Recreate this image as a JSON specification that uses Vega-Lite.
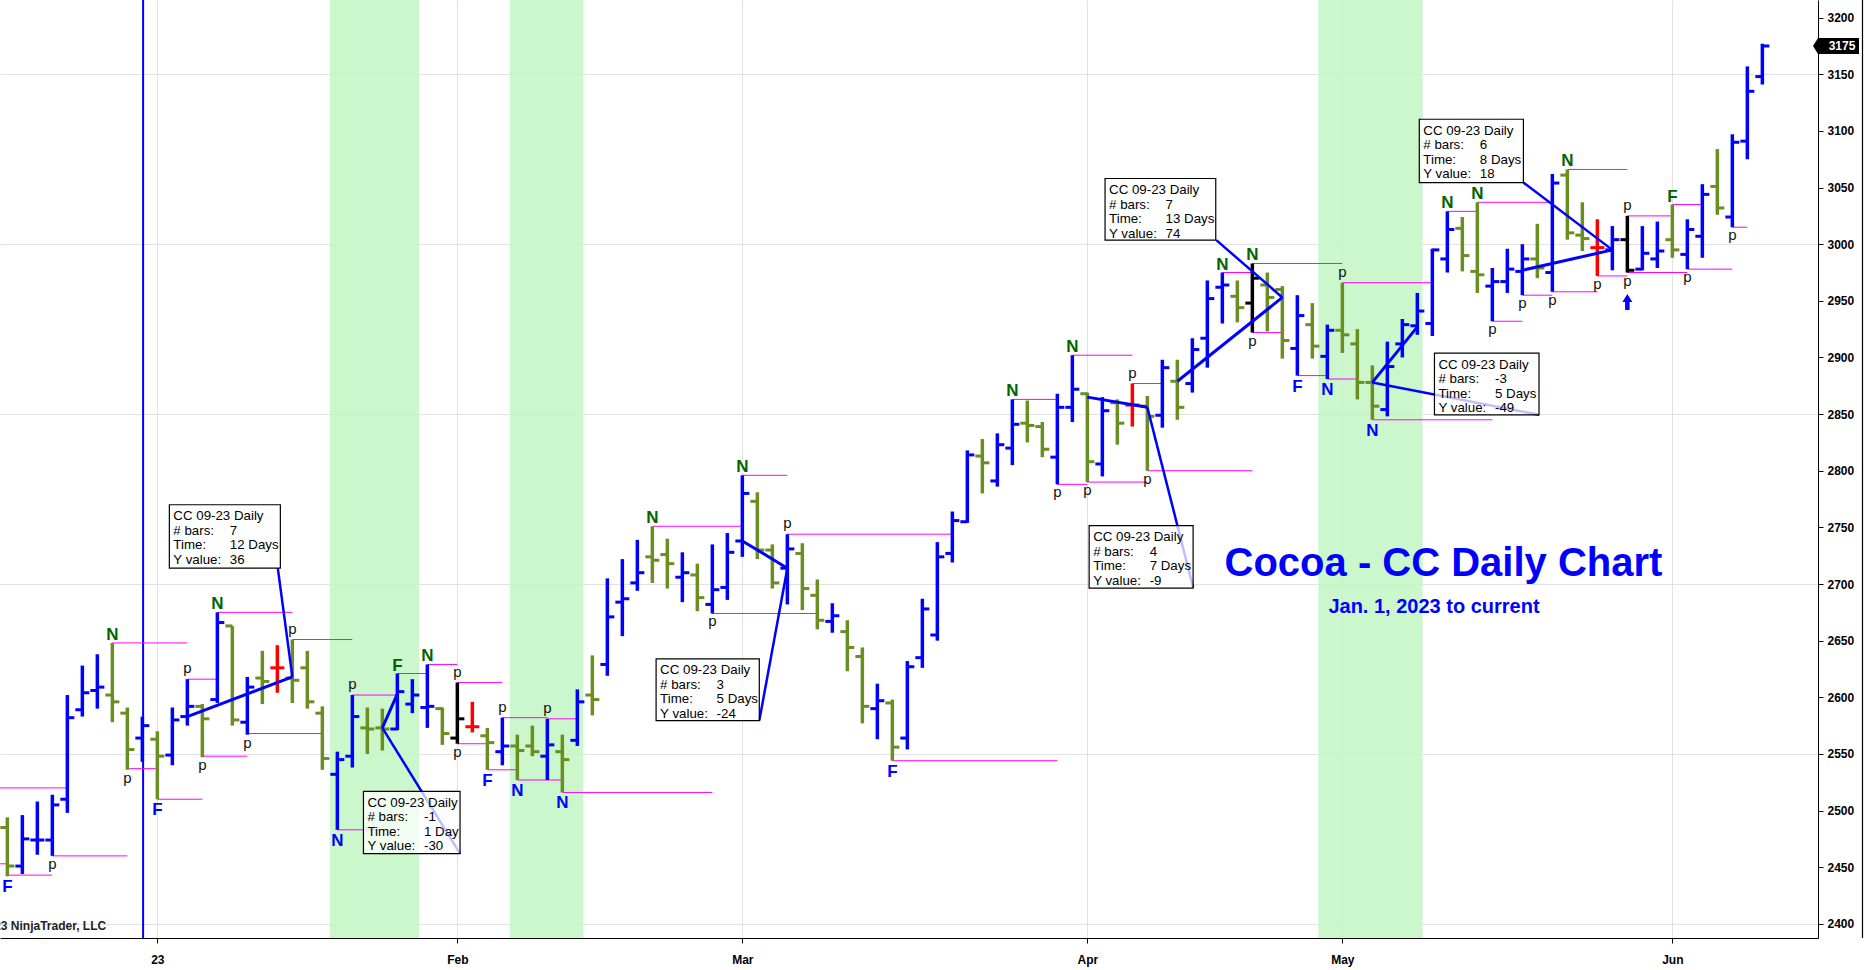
{
  "$schema": "https://vega.github.io/schema/vega-lite/v6.json",
  "width": 1818,
  "height": 938,
  "autosize": {"type": "none"},
  "padding": {"left": 0, "top": 0, "right": 47, "bottom": 32},
  "background": "#ffffff",
  "config": {
    "view": {"stroke": null},
    "axis": {
      "labelFont": "Liberation Sans",
      "labelFontWeight": "bold",
      "labelColor": "#000000",
      "labelFontSize": 12,
      "domainColor": "#000000",
      "tickColor": "#000000",
      "gridColor": "#E2E2E2",
      "tickSize": 5,
      "title": null
    },
    "text": {"font": "Liberation Sans"}
  },
  "datasets": {
    "bars": [
      {"n":1,"date":"2022-12-16","o":2485,"h":2494,"l":2442,"c":2451,"k":"down"},
      {"n":2,"date":"2022-12-19","o":2451,"h":2496,"l":2444,"c":2475,"k":"up"},
      {"n":3,"date":"2022-12-20","o":2474,"h":2508,"l":2461,"c":2474,"k":"up"},
      {"n":4,"date":"2022-12-21","o":2474,"h":2514,"l":2460,"c":2505,"k":"up"},
      {"n":5,"date":"2022-12-22","o":2510,"h":2602,"l":2498,"c":2582,"k":"up"},
      {"n":6,"date":"2022-12-23","o":2589,"h":2628,"l":2583,"c":2604,"k":"up"},
      {"n":7,"date":"2022-12-27","o":2606,"h":2638,"l":2590,"c":2609,"k":"up"},
      {"n":8,"date":"2022-12-28","o":2602,"h":2648,"l":2578,"c":2596,"k":"down"},
      {"n":9,"date":"2022-12-29","o":2586,"h":2591,"l":2536,"c":2554,"k":"down"},
      {"n":10,"date":"2022-12-30","o":2564,"h":2583,"l":2543,"c":2575,"k":"up"},
      {"n":11,"date":"2023-01-03","o":2563,"h":2570,"l":2510,"c":2548,"k":"down"},
      {"n":12,"date":"2023-01-04","o":2549,"h":2591,"l":2540,"c":2580,"k":"up"},
      {"n":13,"date":"2023-01-05","o":2583,"h":2616,"l":2575,"c":2592,"k":"up"},
      {"n":14,"date":"2023-01-06","o":2592,"h":2594,"l":2547,"c":2581,"k":"down"},
      {"n":15,"date":"2023-01-09","o":2598,"h":2675,"l":2595,"c":2666,"k":"up"},
      {"n":16,"date":"2023-01-10","o":2663,"h":2663,"l":2575,"c":2580,"k":"down"},
      {"n":17,"date":"2023-01-11","o":2578,"h":2618,"l":2567,"c":2609,"k":"up"},
      {"n":18,"date":"2023-01-12","o":2617,"h":2641,"l":2594,"c":2614,"k":"down"},
      {"n":19,"date":"2023-01-13","o":2626,"h":2646,"l":2604,"c":2626,"k":"red"},
      {"n":20,"date":"2023-01-17","o":2617,"h":2651,"l":2595,"c":2615,"k":"down"},
      {"n":21,"date":"2023-01-18","o":2626,"h":2641,"l":2590,"c":2596,"k":"down"},
      {"n":22,"date":"2023-01-19","o":2586,"h":2592,"l":2536,"c":2546,"k":"down"},
      {"n":23,"date":"2023-01-20","o":2532,"h":2552,"l":2483,"c":2545,"k":"up"},
      {"n":24,"date":"2023-01-23","o":2548,"h":2602,"l":2538,"c":2583,"k":"up"},
      {"n":25,"date":"2023-01-24","o":2573,"h":2591,"l":2550,"c":2572,"k":"down"},
      {"n":26,"date":"2023-01-25","o":2573,"h":2590,"l":2553,"c":2572,"k":"down"},
      {"n":27,"date":"2023-01-26","o":2572,"h":2621,"l":2571,"c":2605,"k":"up"},
      {"n":28,"date":"2023-01-27","o":2594,"h":2616,"l":2586,"c":2602,"k":"up"},
      {"n":29,"date":"2023-01-30","o":2591,"h":2629,"l":2573,"c":2592,"k":"up"},
      {"n":30,"date":"2023-01-31","o":2590,"h":2591,"l":2558,"c":2568,"k":"down"},
      {"n":31,"date":"2023-02-01","o":2564,"h":2613,"l":2559,"c":2581,"k":"black"},
      {"n":32,"date":"2023-02-02","o":2574,"h":2596,"l":2569,"c":2574,"k":"red"},
      {"n":33,"date":"2023-02-03","o":2566,"h":2573,"l":2536,"c":2560,"k":"down"},
      {"n":34,"date":"2023-02-06","o":2552,"h":2582,"l":2540,"c":2557,"k":"up"},
      {"n":35,"date":"2023-02-07","o":2557,"h":2567,"l":2527,"c":2553,"k":"down"},
      {"n":36,"date":"2023-02-08","o":2557,"h":2575,"l":2548,"c":2552,"k":"down"},
      {"n":37,"date":"2023-02-09","o":2548,"h":2581,"l":2527,"c":2558,"k":"up"},
      {"n":38,"date":"2023-02-10","o":2552,"h":2567,"l":2516,"c":2545,"k":"down"},
      {"n":39,"date":"2023-02-13","o":2562,"h":2607,"l":2557,"c":2596,"k":"up"},
      {"n":40,"date":"2023-02-14","o":2602,"h":2637,"l":2584,"c":2598,"k":"down"},
      {"n":41,"date":"2023-02-15","o":2629,"h":2705,"l":2619,"c":2671,"k":"up"},
      {"n":42,"date":"2023-02-16","o":2684,"h":2722,"l":2654,"c":2687,"k":"up"},
      {"n":43,"date":"2023-02-17","o":2701,"h":2739,"l":2694,"c":2710,"k":"up"},
      {"n":44,"date":"2023-02-21","o":2724,"h":2751,"l":2701,"c":2721,"k":"down"},
      {"n":45,"date":"2023-02-22","o":2726,"h":2740,"l":2696,"c":2718,"k":"down"},
      {"n":46,"date":"2023-02-23","o":2706,"h":2728,"l":2684,"c":2710,"k":"up"},
      {"n":47,"date":"2023-02-24","o":2708,"h":2718,"l":2676,"c":2688,"k":"down"},
      {"n":48,"date":"2023-02-27","o":2682,"h":2735,"l":2674,"c":2695,"k":"up"},
      {"n":49,"date":"2023-02-28","o":2697,"h":2745,"l":2686,"c":2728,"k":"up"},
      {"n":50,"date":"2023-03-01","o":2738,"h":2796,"l":2724,"c":2780,"k":"up"},
      {"n":51,"date":"2023-03-02","o":2773,"h":2781,"l":2722,"c":2730,"k":"down"},
      {"n":52,"date":"2023-03-03","o":2730,"h":2735,"l":2696,"c":2701,"k":"down"},
      {"n":53,"date":"2023-03-06","o":2714,"h":2744,"l":2682,"c":2731,"k":"up"},
      {"n":54,"date":"2023-03-07","o":2727,"h":2736,"l":2677,"c":2696,"k":"down"},
      {"n":55,"date":"2023-03-08","o":2690,"h":2704,"l":2660,"c":2668,"k":"down"},
      {"n":56,"date":"2023-03-09","o":2667,"h":2683,"l":2657,"c":2672,"k":"up"},
      {"n":57,"date":"2023-03-10","o":2658,"h":2668,"l":2623,"c":2644,"k":"down"},
      {"n":58,"date":"2023-03-13","o":2636,"h":2644,"l":2577,"c":2592,"k":"down"},
      {"n":59,"date":"2023-03-14","o":2590,"h":2612,"l":2563,"c":2597,"k":"up"},
      {"n":60,"date":"2023-03-15","o":2595,"h":2598,"l":2544,"c":2556,"k":"down"},
      {"n":61,"date":"2023-03-16","o":2564,"h":2632,"l":2554,"c":2627,"k":"up"},
      {"n":62,"date":"2023-03-17","o":2635,"h":2687,"l":2626,"c":2678,"k":"up"},
      {"n":63,"date":"2023-03-20","o":2655,"h":2737,"l":2650,"c":2724,"k":"up"},
      {"n":64,"date":"2023-03-21","o":2727,"h":2764,"l":2719,"c":2756,"k":"up"},
      {"n":65,"date":"2023-03-22","o":2755,"h":2818,"l":2754,"c":2814,"k":"up"},
      {"n":66,"date":"2023-03-23","o":2813,"h":2828,"l":2780,"c":2807,"k":"down"},
      {"n":67,"date":"2023-03-24","o":2791,"h":2833,"l":2786,"c":2823,"k":"up"},
      {"n":68,"date":"2023-03-27","o":2820,"h":2863,"l":2805,"c":2841,"k":"up"},
      {"n":69,"date":"2023-03-28","o":2842,"h":2862,"l":2825,"c":2840,"k":"down"},
      {"n":70,"date":"2023-03-29","o":2839,"h":2843,"l":2812,"c":2819,"k":"down"},
      {"n":71,"date":"2023-03-30","o":2812,"h":2868,"l":2788,"c":2856,"k":"up"},
      {"n":72,"date":"2023-03-31","o":2856,"h":2902,"l":2843,"c":2872,"k":"up"},
      {"n":73,"date":"2023-04-03","o":2868,"h":2869,"l":2790,"c":2808,"k":"down"},
      {"n":74,"date":"2023-04-04","o":2806,"h":2865,"l":2795,"c":2853,"k":"up"},
      {"n":75,"date":"2023-04-05","o":2860,"h":2863,"l":2823,"c":2842,"k":"down"},
      {"n":76,"date":"2023-04-06","o":2858,"h":2877,"l":2839,"c":2858,"k":"red"},
      {"n":77,"date":"2023-04-10","o":2857,"h":2866,"l":2800,"c":2848,"k":"down"},
      {"n":78,"date":"2023-04-11","o":2849,"h":2898,"l":2838,"c":2891,"k":"up"},
      {"n":79,"date":"2023-04-12","o":2879,"h":2898,"l":2845,"c":2856,"k":"down"},
      {"n":80,"date":"2023-04-13","o":2877,"h":2917,"l":2869,"c":2907,"k":"up"},
      {"n":81,"date":"2023-04-14","o":2917,"h":2968,"l":2891,"c":2952,"k":"up"},
      {"n":82,"date":"2023-04-17","o":2962,"h":2975,"l":2930,"c":2964,"k":"up"},
      {"n":83,"date":"2023-04-18","o":2954,"h":2968,"l":2931,"c":2944,"k":"down"},
      {"n":84,"date":"2023-04-19","o":2948,"h":2983,"l":2922,"c":2970,"k":"black"},
      {"n":85,"date":"2023-04-24","o":2964,"h":2975,"l":2923,"c":2953,"k":"down"},
      {"n":86,"date":"2023-04-25","o":2960,"h":2963,"l":2899,"c":2915,"k":"down"},
      {"n":87,"date":"2023-04-26","o":2908,"h":2955,"l":2884,"c":2937,"k":"up"},
      {"n":88,"date":"2023-04-27","o":2929,"h":2948,"l":2899,"c":2910,"k":"down"},
      {"n":89,"date":"2023-04-28","o":2901,"h":2929,"l":2881,"c":2924,"k":"up"},
      {"n":90,"date":"2023-05-01","o":2924,"h":2966,"l":2904,"c":2920,"k":"down"},
      {"n":91,"date":"2023-05-02","o":2912,"h":2925,"l":2863,"c":2878,"k":"down"},
      {"n":92,"date":"2023-05-03","o":2878,"h":2893,"l":2845,"c":2857,"k":"down"},
      {"n":93,"date":"2023-05-04","o":2854,"h":2914,"l":2848,"c":2892,"k":"up"},
      {"n":94,"date":"2023-05-05","o":2912,"h":2934,"l":2900,"c":2929,"k":"up"},
      {"n":95,"date":"2023-05-08","o":2928,"h":2957,"l":2920,"c":2941,"k":"up"},
      {"n":96,"date":"2023-05-09","o":2930,"h":2996,"l":2919,"c":2995,"k":"up"},
      {"n":97,"date":"2023-05-10","o":2987,"h":3029,"l":2975,"c":3013,"k":"up"},
      {"n":98,"date":"2023-05-11","o":3014,"h":3024,"l":2976,"c":2990,"k":"down"},
      {"n":99,"date":"2023-05-12","o":2976,"h":3037,"l":2957,"c":2973,"k":"down"},
      {"n":100,"date":"2023-05-15","o":2963,"h":2979,"l":2932,"c":2967,"k":"up"},
      {"n":101,"date":"2023-05-16","o":2967,"h":2996,"l":2957,"c":2978,"k":"up"},
      {"n":102,"date":"2023-05-17","o":2976,"h":3000,"l":2955,"c":2987,"k":"up"},
      {"n":103,"date":"2023-05-18","o":2987,"h":3018,"l":2970,"c":2979,"k":"down"},
      {"n":104,"date":"2023-05-19","o":2975,"h":3062,"l":2958,"c":3054,"k":"up"},
      {"n":105,"date":"2023-05-22","o":3061,"h":3066,"l":3004,"c":3010,"k":"down"},
      {"n":106,"date":"2023-05-23","o":3008,"h":3037,"l":2994,"c":3005,"k":"down"},
      {"n":107,"date":"2023-05-24","o":2997,"h":3022,"l":2972,"c":2997,"k":"red"},
      {"n":108,"date":"2023-05-25","o":2995,"h":3016,"l":2977,"c":3004,"k":"up"},
      {"n":109,"date":"2023-05-26","o":3004,"h":3025,"l":2975,"c":2977,"k":"black"},
      {"n":110,"date":"2023-05-30","o":2978,"h":3016,"l":2977,"c":2992,"k":"up"},
      {"n":111,"date":"2023-05-31","o":2987,"h":3020,"l":2979,"c":2994,"k":"up"},
      {"n":112,"date":"2023-06-01","o":3004,"h":3035,"l":2988,"c":2995,"k":"down"},
      {"n":113,"date":"2023-06-02","o":2991,"h":3022,"l":2978,"c":3013,"k":"up"},
      {"n":114,"date":"2023-06-05","o":3007,"h":3053,"l":2988,"c":3044,"k":"up"},
      {"n":115,"date":"2023-06-06","o":3051,"h":3084,"l":3026,"c":3032,"k":"down"},
      {"n":116,"date":"2023-06-07","o":3024,"h":3097,"l":3015,"c":3090,"k":"up"},
      {"n":117,"date":"2023-06-08","o":3091,"h":3157,"l":3075,"c":3135,"k":"up"},
      {"n":118,"date":"2023-06-09","o":3148,"h":3177,"l":3141,"c":3175,"k":"up"}
    ],
    "bands": [
      {"x0": 22.5, "x1": 28.45},
      {"x0": 34.5, "x1": 39.4},
      {"x0": 88.4, "x1": 95.35}
    ],
    "vlines": [{"n": 10.05}],
    "pivots": [
      {"a":0.51,"b":1,"p":2453},{"a":0.51,"b":5,"p":2520},{"a":1,"b":4,"p":2443},{"a":4,"b":9,"p":2460},
      {"a":8,"b":13,"p":2648},{"a":9,"b":11,"p":2537},{"a":11,"b":14,"p":2510},{"a":13,"b":15,"p":2616},
      {"a":14,"b":17,"p":2548},{"a":15,"b":20,"p":2675},{"a":17,"b":22,"p":2568},{"a":20,"b":24,"p":2651},
      {"a":23,"b":27,"p":2483},{"a":24,"b":27,"p":2602},{"a":27,"b":29,"p":2621},{"a":29,"b":31,"p":2629},
      {"a":31,"b":34,"p":2613},{"a":31,"b":33,"p":2559},{"a":33,"b":35,"p":2536},{"a":34,"b":37,"p":2582},
      {"a":35,"b":38,"p":2527},{"a":37,"b":39,"p":2581},{"a":38,"b":48,"p":2516},{"a":44,"b":50,"p":2751},
      {"a":50,"b":53,"p":2796},{"a":48,"b":55,"p":2674},{"a":53,"b":64,"p":2744},{"a":60,"b":71,"p":2544},
      {"a":68,"b":71,"p":2863},{"a":71,"b":73,"p":2788},{"a":72,"b":76,"p":2902},{"a":73,"b":77,"p":2790},
      {"a":76,"b":78,"p":2877},{"a":77,"b":84,"p":2800},{"a":82,"b":84,"p":2975},{"a":84,"b":90,"p":2983},
      {"a":84,"b":86,"p":2922},{"a":87,"b":89,"p":2884},{"a":89,"b":91,"p":2881},{"a":90,"b":96,"p":2966},
      {"a":92,"b":100,"p":2845},{"a":97,"b":99,"p":3029},{"a":99,"b":104,"p":3037},{"a":100,"b":102,"p":2932},
      {"a":102,"b":104,"p":2955},{"a":104,"b":107,"p":2958},{"a":105,"b":109,"p":3066},{"a":107,"b":109,"p":2972},
      {"a":109,"b":112,"p":3025},{"a":109,"b":113,"p":2975},{"a":112,"b":114,"p":3035},{"a":113,"b":116,"p":2978},
      {"a":116,"b":117,"p":3015}
    ],
    "labels": [
      {"n":1,"p":2442,"t":"F","pos":"below"},{"n":4,"p":2460,"t":"p","pos":"below"},
      {"n":8,"p":2648,"t":"N","pos":"above"},{"n":9,"p":2536,"t":"p","pos":"below"},
      {"n":11,"p":2510,"t":"F","pos":"below"},{"n":13,"p":2616,"t":"p","pos":"above"},
      {"n":14,"p":2547,"t":"p","pos":"below"},{"n":15,"p":2675,"t":"N","pos":"above"},
      {"n":17,"p":2567,"t":"p","pos":"below"},{"n":20,"p":2651,"t":"p","pos":"above"},
      {"n":23,"p":2483,"t":"N","pos":"below"},{"n":24,"p":2602,"t":"p","pos":"above"},
      {"n":27,"p":2621,"t":"F","pos":"above"},{"n":29,"p":2629,"t":"N","pos":"above"},
      {"n":31,"p":2613,"t":"p","pos":"above"},{"n":31,"p":2559,"t":"p","pos":"below"},
      {"n":33,"p":2536,"t":"F","pos":"below"},{"n":34,"p":2582,"t":"p","pos":"above"},
      {"n":35,"p":2527,"t":"N","pos":"below"},{"n":37,"p":2581,"t":"p","pos":"above"},
      {"n":38,"p":2516,"t":"N","pos":"below"},{"n":44,"p":2751,"t":"N","pos":"above"},
      {"n":48,"p":2674,"t":"p","pos":"below"},{"n":50,"p":2796,"t":"N","pos":"above"},
      {"n":53,"p":2744,"t":"p","pos":"above"},{"n":60,"p":2544,"t":"F","pos":"below"},
      {"n":68,"p":2863,"t":"N","pos":"above"},{"n":71,"p":2788,"t":"p","pos":"below"},
      {"n":72,"p":2902,"t":"N","pos":"above"},{"n":73,"p":2790,"t":"p","pos":"below"},
      {"n":76,"p":2877,"t":"p","pos":"above"},{"n":77,"p":2800,"t":"p","pos":"below"},
      {"n":82,"p":2975,"t":"N","pos":"above"},{"n":84,"p":2983,"t":"N","pos":"above"},
      {"n":84,"p":2922,"t":"p","pos":"below"},{"n":87,"p":2884,"t":"F","pos":"below"},
      {"n":89,"p":2881,"t":"N","pos":"below"},{"n":90,"p":2966,"t":"p","pos":"above"},
      {"n":92,"p":2845,"t":"N","pos":"below"},{"n":97,"p":3029,"t":"N","pos":"above"},
      {"n":99,"p":3037,"t":"N","pos":"above"},{"n":100,"p":2932,"t":"p","pos":"below"},
      {"n":102,"p":2955,"t":"p","pos":"below"},{"n":104,"p":2958,"t":"p","pos":"below"},
      {"n":105,"p":3066,"t":"N","pos":"above"},{"n":107,"p":2972,"t":"p","pos":"below"},
      {"n":109,"p":3025,"t":"p","pos":"above"},{"n":109,"p":2975,"t":"p","pos":"below"},
      {"n":112,"p":3035,"t":"F","pos":"above"},{"n":113,"p":2978,"t":"p","pos":"below"},
      {"n":116,"p":3015,"t":"p","pos":"below"}
    ],
    "trend": [
      {"x1":13,"y1":2583,"x2":20,"y2":2618,"kind":"trend"},
      {"x1":20,"y1":2618,"x2":19.03,"y2":2714,"kind":"link"},
      {"x1":27,"y1":2603,"x2":26,"y2":2573,"kind":"trend"},
      {"x1":26,"y1":2573,"x2":31.18,"y2":2462,"kind":"link"},
      {"x1":50,"y1":2738,"x2":53,"y2":2714,"kind":"trend"},
      {"x1":53,"y1":2714,"x2":51.13,"y2":2579.4,"kind":"link"},
      {"x1":79,"y1":2879,"x2":86,"y2":2953,"kind":"trend"},
      {"x1":86,"y1":2953,"x2":81.6,"y2":3003.6,"kind":"link"},
      {"x1":73,"y1":2865,"x2":77,"y2":2856,"kind":"trend"},
      {"x1":77,"y1":2856,"x2":80.05,"y2":2697,"kind":"link"},
      {"x1":102,"y1":2977,"x2":108,"y2":2995,"kind":"trend"},
      {"x1":108,"y1":2995,"x2":102.07,"y2":3054.4,"kind":"link"},
      {"x1":95,"y1":2927,"x2":92,"y2":2878,"kind":"trend"},
      {"x1":92,"y1":2878,"x2":103.11,"y2":2849.4,"kind":"link"}
    ],
    "boxes": [
      {"x0":11.8,"x1":19.2,"top":2770,"bot":2714,"keys":["CC 09-23 Daily","# bars:","Time:","Y value:"],"vals":["","7","12 Days","36"]},
      {"x0":24.74,"x1":31.18,"top":2517,"bot":2462,"keys":["CC 09-23 Daily","# bars:","Time:","Y value:"],"vals":["","-1","1 Day","-30"]},
      {"x0":44.25,"x1":51.13,"top":2634,"bot":2579.4,"keys":["CC 09-23 Daily","# bars:","Time:","Y value:"],"vals":["","3","5 Days","-24"]},
      {"x0":74.18,"x1":81.56,"top":3058,"bot":3003.6,"keys":["CC 09-23 Daily","# bars:","Time:","Y value:"],"vals":["","7","13 Days","74"]},
      {"x0":73.12,"x1":80.05,"top":2751.5,"bot":2696.4,"keys":["CC 09-23 Daily","# bars:","Time:","Y value:"],"vals":["","4","7 Days","-9"]},
      {"x0":95.13,"x1":102.07,"top":3110.3,"bot":3054.4,"keys":["CC 09-23 Daily","# bars:","Time:","Y value:"],"vals":["","6","8 Days","18"]},
      {"x0":96.14,"x1":103.11,"top":2903.8,"bot":2849.4,"keys":["CC 09-23 Daily","# bars:","Time:","Y value:"],"vals":["","-3","5 Days","-49"]}
    ],
    "signals": [{"n": 109, "p": 2949}],
    "notes": [
      {"n": 96.74, "p": 2707.5, "t": "Cocoa - CC Daily Chart", "kind": "title"},
      {"n": 96.11, "p": 2674, "t": "Jan. 1, 2023 to current", "kind": "sub"},
      {"n": 7.59, "p": 2395, "t": "© 2023 NinjaTrader, LLC", "kind": "copy"}
    ]
  },
  "layer": [
    {
      "data": {"name": "bands"},
      "mark": {"type": "rect", "fill": "#C3F6C3", "opacity": 0.85},
      "encoding": {
        "x": {"field": "x0", "type": "quantitative", "scale": {"domain": [0.51, 121.71], "nice": false, "zero": false}},
        "x2": {"field": "x1"}
      }
    },
    {
      "data": {"name": "vlines"},
      "mark": {"type": "rule", "color": "#0000FF", "strokeWidth": 2},
      "encoding": {
        "x": {"field": "n", "type": "quantitative", "scale": {"domain": [0.51, 121.71], "nice": false, "zero": false}}
      }
    },
    {
      "data": {"name": "pivots"},
      "mark": {"type": "rule", "color": "#FF00FF", "strokeWidth": 1},
      "encoding": {
        "x": {"field": "a", "type": "quantitative", "scale": {"domain": [0.51, 121.71], "nice": false, "zero": false}},
        "x2": {"field": "b"},
        "y": {"field": "p", "type": "quantitative", "scale": {"domain": [2387.5, 3215.6], "nice": false, "zero": false}}
      }
    },
    {
      "data": {"name": "bars"},
      "mark": {"type": "rule", "strokeWidth": 3.5, "strokeCap": "butt"},
      "encoding": {
        "x": {
          "field": "n", "type": "quantitative",
          "scale": {"domain": [0.51, 121.71], "nice": false, "zero": false},
          "axis": {
            "values": [11, 31, 50, 73, 90, 112],
            "labelExpr": "['23','Feb','Mar','Apr','May','Jun'][indexof([11,31,50,73,90,112], datum.value)]",
            "grid": true,
            "labelPadding": 11
          }
        },
        "y": {
          "field": "l", "type": "quantitative",
          "scale": {"domain": [2387.5, 3215.6], "nice": false, "zero": false},
          "axis": {
            "orient": "right",
            "format": "d",
            "values": [2400, 2450, 2500, 2550, 2600, 2650, 2700, 2750, 2800, 2850, 2900, 2950, 3000, 3050, 3100, 3150, 3200],
            "grid": true,
            "gridOpacity": {"condition": {"test": "datum.value % 150 === 0", "value": 1}, "value": 0},
            "labelPadding": 4
          }
        },
        "y2": {"field": "h"},
        "color": {
          "field": "k", "type": "nominal", "legend": null,
          "scale": {"domain": ["up", "down", "red", "black"], "range": ["#0000FF", "#6B8E23", "#FF0000", "#000000"]}
        }
      }
    },
    {
      "data": {"name": "bars"},
      "mark": {"type": "tick", "orient": "horizontal", "size": 7, "thickness": 3, "xOffset": -3.5, "opacity": 1},
      "encoding": {
        "x": {"field": "n", "type": "quantitative", "scale": {"domain": [0.51, 121.71], "nice": false, "zero": false}},
        "y": {"field": "o", "type": "quantitative", "scale": {"domain": [2387.5, 3215.6], "nice": false, "zero": false}},
        "color": {"field": "k", "type": "nominal", "legend": null, "scale": {"domain": ["up", "down", "red", "black"], "range": ["#0000FF", "#6B8E23", "#FF0000", "#000000"]}}
      }
    },
    {
      "data": {"name": "bars"},
      "mark": {"type": "tick", "orient": "horizontal", "size": 7, "thickness": 3, "xOffset": 3.5, "opacity": 1},
      "encoding": {
        "x": {"field": "n", "type": "quantitative", "scale": {"domain": [0.51, 121.71], "nice": false, "zero": false}},
        "y": {"field": "c", "type": "quantitative", "scale": {"domain": [2387.5, 3215.6], "nice": false, "zero": false}},
        "color": {"field": "k", "type": "nominal", "legend": null, "scale": {"domain": ["up", "down", "red", "black"], "range": ["#0000FF", "#6B8E23", "#FF0000", "#000000"]}}
      }
    },
    {
      "data": {"name": "trend"},
      "transform": [{"filter": "datum.kind === 'link'"}],
      "mark": {"type": "rule", "color": "#0000FF", "strokeWidth": 2.5},
      "encoding": {
        "x": {"field": "x1", "type": "quantitative", "scale": {"domain": [0.51, 121.71], "nice": false, "zero": false}},
        "x2": {"field": "x2"},
        "y": {"field": "y1", "type": "quantitative", "scale": {"domain": [2387.5, 3215.6], "nice": false, "zero": false}},
        "y2": {"field": "y2"}
      }
    },
    {
      "data": {"name": "boxes"},
      "mark": {"type": "rect", "fill": "#FFFFFF", "fillOpacity": 0.75, "stroke": "#000000", "strokeWidth": 1.2},
      "encoding": {
        "x": {"field": "x0", "type": "quantitative", "scale": {"domain": [0.51, 121.71], "nice": false, "zero": false}},
        "x2": {"field": "x1"},
        "y": {"field": "top", "type": "quantitative", "scale": {"domain": [2387.5, 3215.6], "nice": false, "zero": false}},
        "y2": {"field": "bot"}
      }
    },
    {
      "data": {"name": "trend"},
      "transform": [{"filter": "datum.kind === 'trend'"}],
      "mark": {"type": "rule", "color": "#0000FF", "strokeWidth": 3},
      "encoding": {
        "x": {"field": "x1", "type": "quantitative", "scale": {"domain": [0.51, 121.71], "nice": false, "zero": false}},
        "x2": {"field": "x2"},
        "y": {"field": "y1", "type": "quantitative", "scale": {"domain": [2387.5, 3215.6], "nice": false, "zero": false}},
        "y2": {"field": "y2"}
      }
    },
    {
      "data": {"name": "boxes"},
      "mark": {"type": "text", "align": "left", "baseline": "alphabetic", "dx": 4, "dy": 15.5, "lineHeight": 14.5, "fontSize": 13.3, "color": "#000000"},
      "encoding": {
        "x": {"field": "x0", "type": "quantitative", "scale": {"domain": [0.51, 121.71], "nice": false, "zero": false}},
        "y": {"field": "top", "type": "quantitative", "scale": {"domain": [2387.5, 3215.6], "nice": false, "zero": false}},
        "text": {"field": "keys"}
      }
    },
    {
      "data": {"name": "boxes"},
      "mark": {"type": "text", "align": "left", "baseline": "alphabetic", "dx": 60.5, "dy": 15.5, "lineHeight": 14.5, "fontSize": 13.3, "color": "#000000"},
      "encoding": {
        "x": {"field": "x0", "type": "quantitative", "scale": {"domain": [0.51, 121.71], "nice": false, "zero": false}},
        "y": {"field": "top", "type": "quantitative", "scale": {"domain": [2387.5, 3215.6], "nice": false, "zero": false}},
        "text": {"field": "vals"}
      }
    },
    {
      "data": {"name": "labels"},
      "transform": [{"filter": "datum.t !== 'p' && datum.pos === 'above'"}],
      "mark": {"type": "text", "align": "center", "baseline": "alphabetic", "dy": -3, "fontSize": 17, "fontWeight": "bold", "color": "#006400"},
      "encoding": {
        "x": {"field": "n", "type": "quantitative", "scale": {"domain": [0.51, 121.71], "nice": false, "zero": false}},
        "y": {"field": "p", "type": "quantitative", "scale": {"domain": [2387.5, 3215.6], "nice": false, "zero": false}},
        "text": {"field": "t"}
      }
    },
    {
      "data": {"name": "labels"},
      "transform": [{"filter": "datum.t !== 'p' && datum.pos === 'below'"}],
      "mark": {"type": "text", "align": "center", "baseline": "alphabetic", "dy": 16, "fontSize": 17, "fontWeight": "bold", "color": "#0000FF"},
      "encoding": {
        "x": {"field": "n", "type": "quantitative", "scale": {"domain": [0.51, 121.71], "nice": false, "zero": false}},
        "y": {"field": "p", "type": "quantitative", "scale": {"domain": [2387.5, 3215.6], "nice": false, "zero": false}},
        "text": {"field": "t"}
      }
    },
    {
      "data": {"name": "labels"},
      "transform": [{"filter": "datum.t === 'p' && datum.pos === 'above'"}],
      "mark": {"type": "text", "align": "center", "baseline": "alphabetic", "dy": -6, "fontSize": 15, "color": "#111111"},
      "encoding": {
        "x": {"field": "n", "type": "quantitative", "scale": {"domain": [0.51, 121.71], "nice": false, "zero": false}},
        "y": {"field": "p", "type": "quantitative", "scale": {"domain": [2387.5, 3215.6], "nice": false, "zero": false}},
        "text": {"field": "t"}
      }
    },
    {
      "data": {"name": "labels"},
      "transform": [{"filter": "datum.t === 'p' && datum.pos === 'below'"}],
      "mark": {"type": "text", "align": "center", "baseline": "alphabetic", "dy": 13, "fontSize": 15, "color": "#111111"},
      "encoding": {
        "x": {"field": "n", "type": "quantitative", "scale": {"domain": [0.51, 121.71], "nice": false, "zero": false}},
        "y": {"field": "p", "type": "quantitative", "scale": {"domain": [2387.5, 3215.6], "nice": false, "zero": false}},
        "text": {"field": "t"}
      }
    },
    {
      "data": {"name": "signals"},
      "mark": {"type": "point", "shape": "M-0.28,1L0.28,1L0.28,0L0.62,0L0,-1L-0.62,0L-0.28,0Z", "size": 256, "filled": true, "color": "#0000FF", "opacity": 1},
      "encoding": {
        "x": {"field": "n", "type": "quantitative", "scale": {"domain": [0.51, 121.71], "nice": false, "zero": false}},
        "y": {"field": "p", "type": "quantitative", "scale": {"domain": [2387.5, 3215.6], "nice": false, "zero": false}}
      }
    },
    {
      "data": {"name": "notes"},
      "transform": [{"filter": "datum.kind === 'title'"}],
      "mark": {"type": "text", "align": "center", "baseline": "alphabetic", "fontSize": 40, "fontWeight": "bold", "color": "#0000FF"},
      "encoding": {
        "x": {"field": "n", "type": "quantitative", "scale": {"domain": [0.51, 121.71], "nice": false, "zero": false}},
        "y": {"field": "p", "type": "quantitative", "scale": {"domain": [2387.5, 3215.6], "nice": false, "zero": false}},
        "text": {"field": "t"}
      }
    },
    {
      "data": {"name": "notes"},
      "transform": [{"filter": "datum.kind === 'sub'"}],
      "mark": {"type": "text", "align": "center", "baseline": "alphabetic", "fontSize": 20, "fontWeight": "bold", "color": "#0000FF"},
      "encoding": {
        "x": {"field": "n", "type": "quantitative", "scale": {"domain": [0.51, 121.71], "nice": false, "zero": false}},
        "y": {"field": "p", "type": "quantitative", "scale": {"domain": [2387.5, 3215.6], "nice": false, "zero": false}},
        "text": {"field": "t"}
      }
    },
    {
      "data": {"name": "notes"},
      "transform": [{"filter": "datum.kind === 'copy'"}],
      "mark": {"type": "text", "align": "right", "baseline": "alphabetic", "fontSize": 12, "fontWeight": "bold", "color": "#222222"},
      "encoding": {
        "x": {"field": "n", "type": "quantitative", "scale": {"domain": [0.51, 121.71], "nice": false, "zero": false}},
        "y": {"field": "p", "type": "quantitative", "scale": {"domain": [2387.5, 3215.6], "nice": false, "zero": false}},
        "text": {"field": "t"}
      }
    },
    {
      "data": {"name": "vlines"},
      "mark": {"type": "rule", "color": "#000000", "strokeWidth": 1.2, "xOffset": 44.5, "y2Offset": 31},
      "encoding": {
        "x": {"value": "width"}
      }
    },
    {
      "data": {"name": "bars"},
      "transform": [{"filter": "datum.n === 118"}],
      "mark": {"type": "point", "shape": "M-1,0L-0.78,-0.35L1,-0.35L1,0.35L-0.78,0.35Z", "size": 2116, "filled": true, "color": "#000000", "opacity": 1, "xOffset": 18},
      "encoding": {
        "x": {"value": "width"},
        "y": {"field": "c", "type": "quantitative", "scale": {"domain": [2387.5, 3215.6], "nice": false, "zero": false}}
      }
    },
    {
      "data": {"name": "bars"},
      "transform": [{"filter": "datum.n === 118"}],
      "mark": {"type": "text", "align": "center", "baseline": "middle", "fontSize": 12, "fontWeight": "bold", "color": "#FFFFFF", "xOffset": 24},
      "encoding": {
        "x": {"value": "width"},
        "y": {"field": "c", "type": "quantitative", "scale": {"domain": [2387.5, 3215.6], "nice": false, "zero": false}},
        "text": {"field": "c", "type": "quantitative"}
      }
    }
  ]
}
